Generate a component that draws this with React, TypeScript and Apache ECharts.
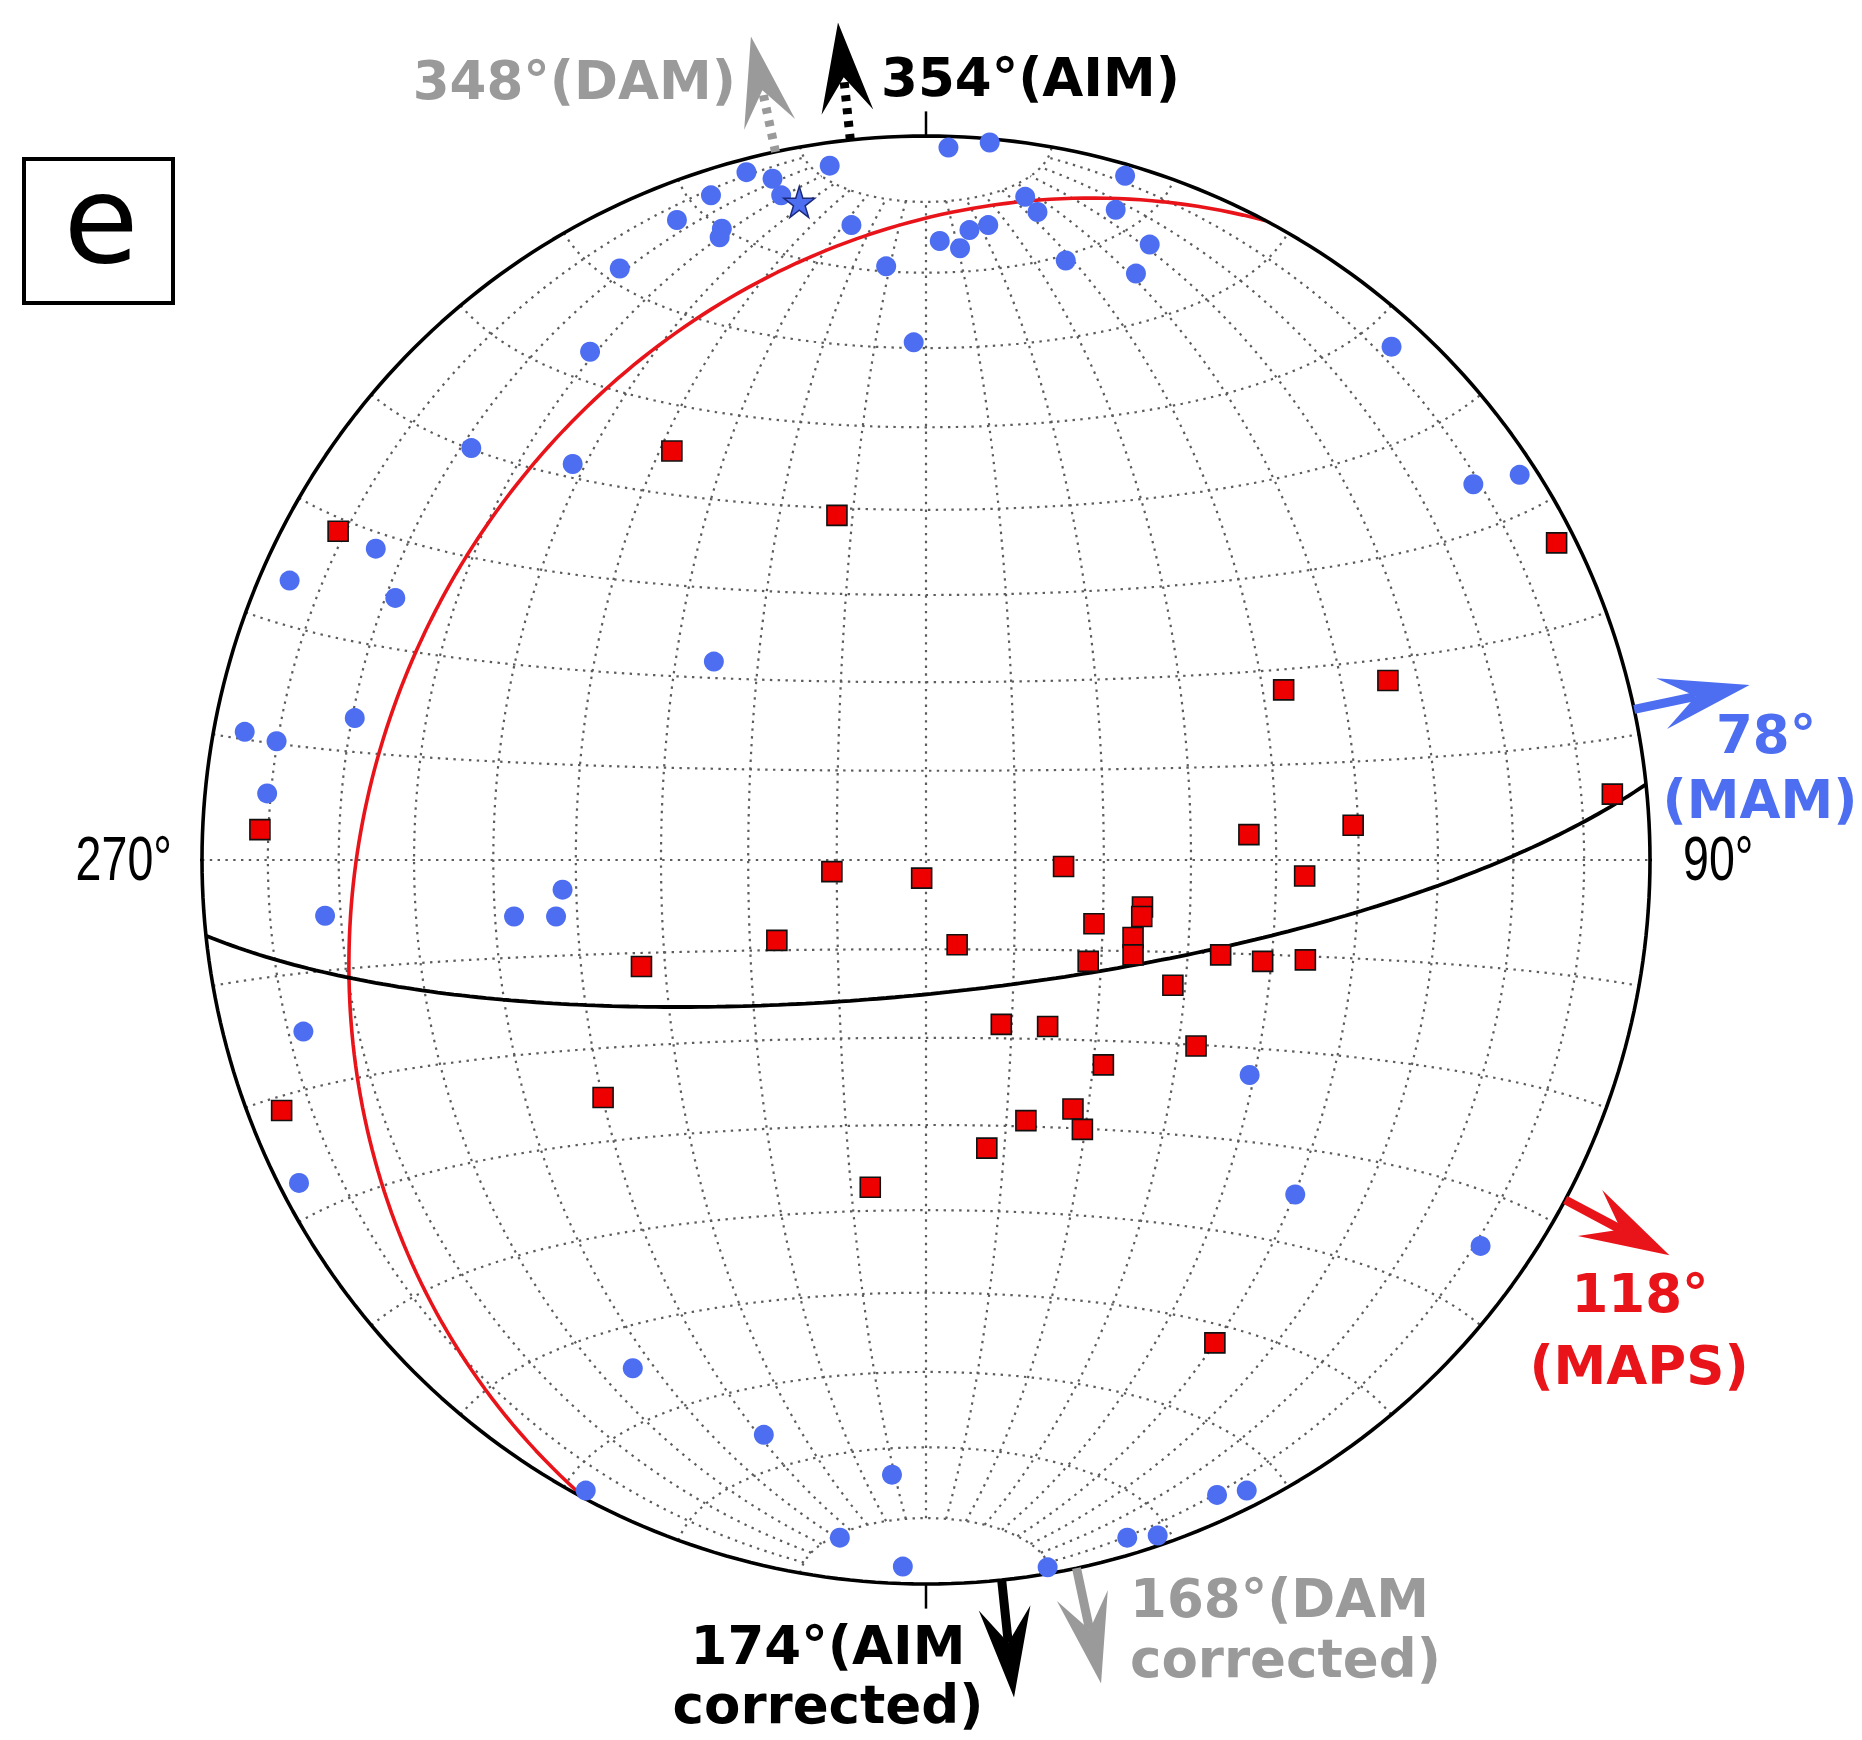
import React, { useEffect, useRef } from 'react';
import * as echarts from 'echarts';

// ---------- data (equal-area lower-hemisphere net, normalised projection coords) ----------
const bluePoints: [number, number][] = [
  [0.031, 0.984], [0.088, 0.991], [-0.248, 0.950], [-0.212, 0.941], [-0.200, 0.918],
  [-0.133, 0.959], [-0.297, 0.918], [-0.344, 0.884], [-0.282, 0.872], [-0.285, 0.860],
  [-0.103, 0.877], [-0.423, 0.817], [-0.464, 0.702], [-0.055, 0.820], [-0.017, 0.715],
  [0.019, 0.855], [0.047, 0.845], [0.060, 0.870], [0.086, 0.877], [0.137, 0.916],
  [0.154, 0.895], [0.275, 0.945], [0.262, 0.898], [0.193, 0.828], [0.309, 0.850],
  [0.290, 0.810], [0.643, 0.709], [0.756, 0.519], [0.820, 0.532], [-0.628, 0.569],
  [-0.488, 0.547], [-0.879, 0.386], [-0.760, 0.430], [-0.733, 0.362], [-0.293, 0.274],
  [-0.941, 0.177], [-0.897, 0.164], [-0.789, 0.196], [-0.910, 0.092], [-0.502, -0.041],
  [-0.569, -0.078], [-0.511, -0.078], [-0.830, -0.077], [-0.860, -0.237], [-0.866, -0.446],
  [0.447, -0.297], [0.510, -0.462], [0.766, -0.533], [-0.405, -0.702], [-0.224, -0.794],
  [-0.047, -0.849], [-0.119, -0.936], [-0.032, -0.976], [0.168, -0.977], [0.278, -0.936],
  [0.320, -0.933], [0.402, -0.877], [0.443, -0.871], [-0.470, -0.871],
];

const starPoint: [number, number][] = [[-0.175, 0.909]];

const redPoints: [number, number][] = [
  [-0.351, 0.565], [-0.123, 0.476], [-0.812, 0.454], [0.871, 0.438], [0.494, 0.235],
  [0.638, 0.248], [0.948, 0.091], [-0.920, 0.042], [0.590, 0.048], [0.446, 0.035],
  [0.523, -0.022], [-0.130, -0.016], [-0.006, -0.025], [0.190, -0.009], [0.232, -0.088],
  [0.299, -0.065], [0.298, -0.078], [-0.206, -0.111], [0.043, -0.117], [0.286, -0.107],
  [0.286, -0.131], [0.224, -0.140], [0.407, -0.131], [0.465, -0.140], [0.524, -0.138],
  [-0.393, -0.147], [0.341, -0.173], [0.104, -0.227], [0.168, -0.230], [0.373, -0.257],
  [0.245, -0.283], [-0.446, -0.328], [-0.890, -0.346], [0.138, -0.360], [0.203, -0.344],
  [0.216, -0.372], [0.084, -0.398], [-0.077, -0.452], [0.399, -0.667],
];

// planes: [dip direction, dip]
const redPlane = [298, 25];
const blackPlane = [174, 75];

const BLUE = '#4d6ef0';
const RED = '#e8141a';
const GRAY = '#9a9a9a';

// arrows: azimuth (deg), colour, dashed stem
const arrowAzimuths = [348, 354, 78, 118, 174, 168];
const arrowColors = [GRAY, '#000000', BLUE, RED, '#000000', GRAY];
const arrowDashed = [true, true, false, false, false, false];

const tickAzimuths = [0, 90, 180, 270];
const gridStep = 10;

// ---------- projection helpers ----------
const rad = (d: number) => (d * Math.PI) / 180;
function proj(E: number, N: number, U: number): [number, number] {
  const s = Math.sqrt(1 - U);
  return [E / s, N / s];
}
function netPoint(lonD: number, latD: number) {
  const lon = rad(lonD);
  const lat = rad(latD);
  return proj(Math.cos(lat) * Math.sin(lon), Math.sin(lat), -Math.cos(lat) * Math.cos(lon));
}
function greatCircle(dd: number, dip: number) {
  const sAz = rad(dd - 90);
  const s = [Math.sin(sAz), Math.cos(sAz), 0];
  const d = [Math.cos(rad(dip)) * Math.sin(rad(dd)), Math.cos(rad(dip)) * Math.cos(rad(dd)), -Math.sin(rad(dip))];
  const pts: [number, number][] = [];
  for (let t = 0; t <= 180; t += 1) {
    const c = Math.cos(rad(t));
    const sn = Math.sin(rad(t));
    pts.push(proj(c * s[0] + sn * d[0], c * s[1] + sn * d[1], Math.min(0, c * s[2] + sn * d[2])));
  }
  return pts;
}

function buildNet() {
  const lines: [number, number][][] = [];
  for (let lon = -90 + gridStep; lon <= 90 - gridStep; lon += gridStep) {
    const l: [number, number][] = [];
    for (let lat = -80; lat <= 80; lat += 1) l.push(netPoint(lon, lat));
    lines.push(l);
  }
  for (let lat = -90 + gridStep; lat <= 90 - gridStep; lat += gridStep) {
    const l: [number, number][] = [];
    for (let lon = -90; lon <= 90; lon += 1) l.push(netPoint(lon, lat));
    lines.push(l);
  }
  return lines;
}

const baseLine = {
  type: 'line',
  showSymbol: false,
  symbol: 'none',
  silent: true,
  clip: false,
  animation: false,
};

export default function App() {
  const ref = useRef<HTMLDivElement>(null);
  useEffect(() => {
    document.body.style.margin = '0';
    document.body.style.overflow = 'hidden';
    const chart = echarts.init(ref.current!, undefined, { renderer: 'svg' });

    const netSeries = buildNet().map((l) => ({
      ...baseLine,
      data: l,
      z: 1,
      lineStyle: { color: '#5c5c5c', width: 2.2, type: [2.4, 5.4] },
    }));

    const primitive: [number, number][] = [];
    for (let a = 0; a <= 360; a += 1) primitive.push([Math.sin(rad(a)), Math.cos(rad(a))]);

    const tickSeries = tickAzimuths.map((az) => ({
      ...baseLine,
      z: 3,
      data: [
        [Math.sin(rad(az)), Math.cos(rad(az))],
        [1.034 * Math.sin(rad(az)), 1.034 * Math.cos(rad(az))],
      ],
      lineStyle: { color: '#000', width: 2.5 },
    }));

    const starPath =
      'path://M50,0 L61,35 L98,35 L68,57 L79,91 L50,70 L21,91 L32,57 L2,35 L39,35 Z';

    const txt = (text: string, x: number, y: number, color: string, align: string) => ({
      type: 'text',
      x,
      y,
      z: 100,
      style: {
        text,
        fill: color,
        fontSize: 53,
        fontWeight: 'bold',
        fontFamily: 'DejaVu Sans',
        align,
        textAlign: align,
        verticalAlign: 'middle',
        textVerticalAlign: 'middle',
      },
    });

    const option: any = {
      animation: false,
      backgroundColor: '#ffffff',
      grid: { left: 202, top: 136, width: 1448, height: 1448 },
      xAxis: { type: 'value', min: -1, max: 1, show: false },
      yAxis: { type: 'value', min: -1, max: 1, show: false },
      series: [
        ...netSeries,
        { ...baseLine, z: 3, data: greatCircle(redPlane[0], redPlane[1]), lineStyle: { color: RED, width: 3.6 } },
        { ...baseLine, z: 3, data: greatCircle(blackPlane[0], blackPlane[1]), lineStyle: { color: '#000', width: 3.8 } },
        { ...baseLine, z: 3, data: primitive, lineStyle: { color: '#000', width: 3.6 } },
        ...tickSeries,
        {
          type: 'scatter',
          z: 5,
          silent: true,
          data: bluePoints,
          symbol: 'circle',
          symbolSize: 20,
          itemStyle: { color: BLUE, opacity: 1 },
        },
        {
          type: 'scatter',
          z: 6,
          silent: true,
          data: redPoints,
          symbol: 'rect',
          symbolSize: 20,
          itemStyle: { color: '#ee0000', borderColor: '#111', borderWidth: 1.6, opacity: 1 },
        },
        {
          type: 'scatter',
          z: 7,
          silent: true,
          data: starPoint,
          symbol: starPath,
          symbolSize: 31,
          itemStyle: { color: BLUE, borderColor: '#1b2a7a', borderWidth: 1.5, opacity: 1 },
        },
        {
          type: 'custom',
          z: 8,
          silent: true,
          clip: false,
          data: arrowAzimuths.map((az) => [Math.sin(rad(az)), Math.cos(rad(az)), az]),
          encode: { x: 0, y: 1 },
          renderItem: (params: any, api: any) => {
            const i = params.dataIndex;
            const p0 = api.coord([api.value(0), api.value(1)]);
            const c = api.coord([0, 0]);
            let dx = p0[0] - c[0];
            let dy = p0[1] - c[1];
            const len = Math.hypot(dx, dy);
            dx /= len;
            dy /= len;
            const px = -dy;
            const py = dx;
            const L = 118;
            const H = 90;
            const NOTCH = 55;
            const W = 26;
            const at = (d: number) => [p0[0] + dx * d, p0[1] + dy * d];
            const tip = at(L);
            const base = at(L - H);
            const notch = at(L - NOTCH);
            const w1 = [base[0] + px * W, base[1] + py * W];
            const w2 = [base[0] - px * W, base[1] - py * W];
            const color = arrowColors[i];
            return {
              type: 'group',
              children: [
                {
                  type: 'line',
                  shape: { x1: p0[0], y1: p0[1], x2: notch[0], y2: notch[1] },
                  style: { stroke: color, lineWidth: 9, lineDash: arrowDashed[i] ? [6, 7] : null, fill: null },
                },
                {
                  type: 'polygon',
                  shape: { points: [tip, w1, notch, w2] },
                  style: { fill: color, stroke: null },
                },
              ],
            };
          },
        },
      ],
      graphic: [
        {
          type: 'rect',
          z: 100,
          shape: { x: 24, y: 159, width: 149, height: 144 },
          style: { fill: 'rgba(0,0,0,0)', stroke: '#000', lineWidth: 4 },
        },
        {
          type: 'text',
          x: 101,
          y: 220,
          z: 100,
          style: {
            text: 'e',
            fill: '#000',
            fontSize: 122,
            fontFamily: 'DejaVu Sans',
            align: 'center',
            textAlign: 'center',
            verticalAlign: 'middle',
            textVerticalAlign: 'middle',
          },
        },
        {
          type: 'text',
          x: 172,
          y: 858,
          z: 100,
          scaleX: 0.74,
          style: {
            text: '270°',
            fill: '#000',
            fontSize: 63,
            fontFamily: 'Liberation Sans',
            align: 'right',
            textAlign: 'right',
            verticalAlign: 'middle',
            textVerticalAlign: 'middle',
          },
        },
        {
          type: 'text',
          x: 1683,
          y: 858,
          z: 100,
          scaleX: 0.74,
          style: {
            text: '90°',
            fill: '#000',
            fontSize: 63,
            fontFamily: 'Liberation Sans',
            align: 'left',
            textAlign: 'left',
            verticalAlign: 'middle',
            textVerticalAlign: 'middle',
          },
        },
        txt('348°(DAM)', 736, 80, GRAY, 'right'),
        txt('354°(AIM)', 881, 77, '#000', 'left'),
        txt('78°', 1766, 734, BLUE, 'center'),
        txt('(MAM)', 1760, 799, BLUE, 'center'),
        txt('118°', 1640, 1293, RED, 'center'),
        txt('(MAPS)', 1639, 1365, RED, 'center'),
        txt('174°(AIM', 828, 1645, '#000', 'center'),
        txt('corrected)', 828, 1704, '#000', 'center'),
        txt('168°(DAM', 1130, 1598, GRAY, 'left'),
        txt('corrected)', 1130, 1658, GRAY, 'left'),
      ],
    };

    chart.setOption(option);
    return () => chart.dispose();
  }, []);
  return <div ref={ref} style={{ width: 1862, height: 1740, background: '#fff' }} />;
}
